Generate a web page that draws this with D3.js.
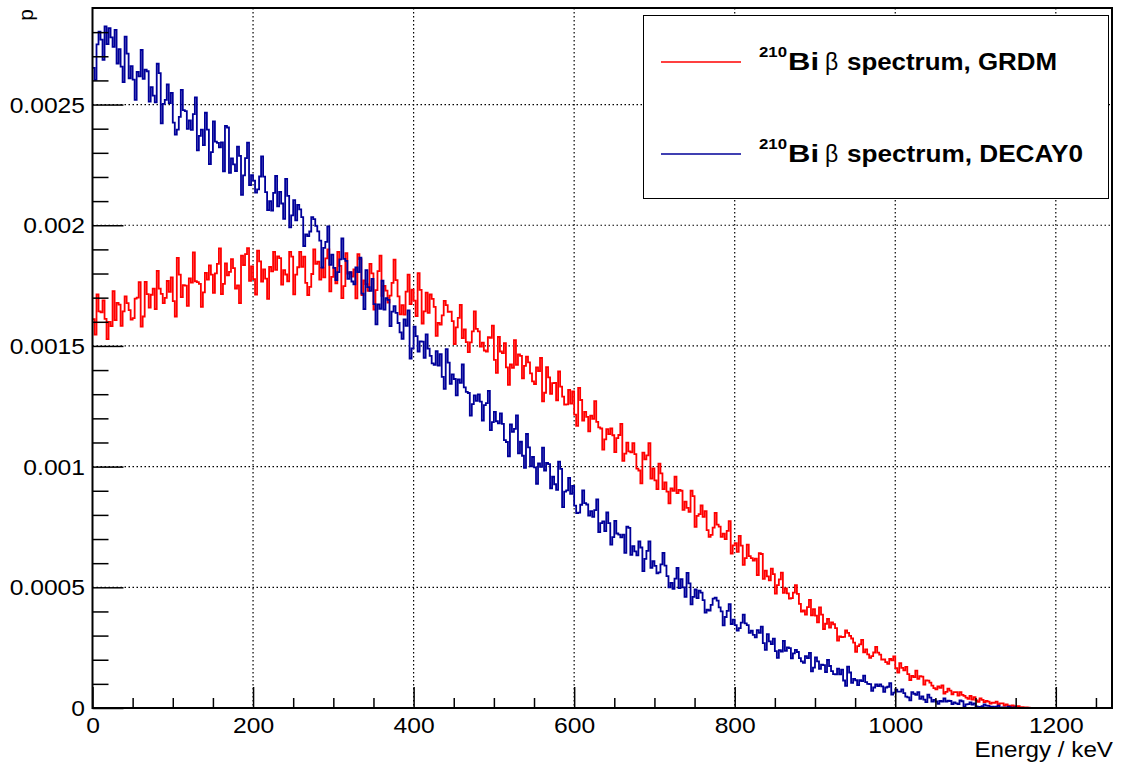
<!DOCTYPE html>
<html>
<head>
<meta charset="utf-8">
<script src="https://d3js.org/d3.v7.min.js"></script>
<style>
  body { margin: 0; background: #fff; }
  svg { display: block; font-family: "Liberation Sans", Arial, Helvetica, sans-serif; }
</style>
</head>
<body>
<script>
// histogram binning (keV)
var binWidth = 2.5;
var energyMax = 1270;

// p per 2.5 keV bin, written as p * 1e6
var grdmE6 = [
  1611, 1547, 1713, 1643, 1639, 1689, 1612, 1528, 1600, 1582,
  1727, 1607, 1678, 1671, 1583, 1643, 1705, 1677, 1648, 1609,
  1615, 1696, 1700, 1764, 1580, 1622, 1765, 1715, 1659, 1712,
  1737, 1653, 1811, 1737, 1716, 1677, 1699, 1769, 1724, 1784,
  1686, 1622, 1865, 1795, 1702, 1752, 1750, 1666, 1780, 1762,
  1888, 1768, 1764, 1757, 1662, 1722, 1803, 1775, 1834, 1795,
  1720, 1801, 1840, 1904, 1715, 1757, 1842, 1792, 1807, 1860,
  1822, 1738, 1751, 1677, 1874, 1835, 1880, 1905, 1770, 1830,
  1777, 1713, 1895, 1850, 1767, 1817, 1779, 1695, 1827, 1809,
  1890, 1815, 1871, 1864, 1754, 1814, 1796, 1768, 1890, 1870,
  1714, 1795, 1826, 1890, 1828, 1870, 1761, 1711, 1745, 1798,
  1900, 1840, 1849, 1775, 1823, 1784, 1863, 1900, 1726, 1786,
  1823, 1759, 1890, 1832, 1698, 1748, 1884, 1800, 1805, 1787,
  1817, 1697, 1880, 1860, 1711, 1771, 1756, 1728, 1840, 1801,
  1650, 1731, 1810, 1874, 1707, 1749, 1729, 1679, 1708, 1761,
  1857, 1773, 1705, 1631, 1669, 1630, 1725, 1795, 1673, 1733,
  1688, 1624, 1802, 1732, 1593, 1643, 1721, 1637, 1713, 1695,
  1662, 1542, 1595, 1588, 1627, 1687, 1669, 1641, 1642, 1603,
  1508, 1577, 1616, 1670, 1532, 1568, 1516, 1474, 1515, 1560,
  1643, 1571, 1560, 1497, 1514, 1481, 1476, 1536, 1533, 1584,
  1442, 1388, 1537, 1477, 1470, 1512, 1411, 1339, 1424, 1409,
  1524, 1422, 1465, 1459, 1366, 1417, 1456, 1432, 1386, 1353,
  1342, 1411, 1396, 1450, 1270, 1306, 1412, 1370, 1301, 1346,
  1347, 1275, 1394, 1331, 1290, 1257, 1258, 1318, 1261, 1312,
  1215, 1169, 1326, 1276, 1191, 1227, 1206, 1146, 1211, 1198,
  1271, 1185, 1163, 1158, 1070, 1113, 1155, 1135, 1158, 1130,
  1060, 1118, 1131, 1177, 1024, 1054, 1099, 1063, 1059, 1097,
  1052, 992, 984, 931, 1058, 1030, 1047, 1097, 950, 993,
  943, 907, 1012, 972, 907, 935, 896, 848, 910, 900,
  958, 890, 904, 900, 821, 855, 829, 813, 900, 878,
  750, 796, 803, 839, 792, 816, 737, 709, 717, 747,
  808, 760, 751, 709, 722, 700, 734, 774, 640, 674,
  683, 647, 713, 673, 593, 621, 677, 629, 621, 611,
  619, 551, 642, 638, 535, 569, 545, 529, 577, 555,
  474, 509, 533, 561, 477, 495, 475, 453, 455, 478,
  509, 473, 431, 399, 404, 387, 418, 448, 384, 410,
  383, 355, 417, 387, 327, 349, 369, 333, 355, 347,
  331, 279, 297, 294, 295, 321, 311, 299, 288, 271,
  233, 256, 264, 282, 231, 243, 222, 208, 215, 230,
  253, 229, 221, 200, 201, 190, 183, 203, 197, 214,
  165, 147, 186, 166, 156, 170, 140, 116, 133, 128,
  155, 121, 132, 130, 97, 114, 113, 105, 93, 82,
  77, 90, 83, 94, 60, 67, 80, 72, 57, 66,
  66, 51, 66, 54, 50, 43, 38, 50, 35, 45,
  31, 25, 40, 34, 24, 29, 26, 18, 22, 21,
  26, 15, 19, 19, 10, 15, 10, 8, 11, 8,
  1, 8, 3, 4, 1, 2, 1, 0,
  0, 0, 0, 0, 0, 0, 0, 0, 0, 0,
  0, 0, 0, 0, 0, 0, 0, 0, 0, 0,
  0, 0, 0, 0, 0, 0, 0, 0, 0, 0,
  0, 0, 0, 0, 0, 0, 0, 0, 0, 0
];

var decay0E6 = [
  2652, 2602, 2749, 2802, 2769, 2685, 2824, 2750, 2817, 2778,
  2739, 2809, 2670, 2730, 2657, 2593, 2781, 2711, 2609, 2659,
  2603, 2519, 2635, 2617, 2726, 2606, 2645, 2638, 2512, 2572,
  2537, 2509, 2669, 2630, 2422, 2503, 2519, 2583, 2506, 2548,
  2425, 2375, 2396, 2449, 2561, 2477, 2473, 2399, 2434, 2395,
  2460, 2530, 2310, 2370, 2396, 2332, 2466, 2396, 2253, 2303,
  2430, 2346, 2341, 2323, 2343, 2223, 2412, 2405, 2217, 2277,
  2252, 2224, 2326, 2287, 2126, 2207, 2278, 2342, 2166, 2208,
  2185, 2135, 2149, 2202, 2285, 2201, 2137, 2063, 2100, 2061,
  2134, 2204, 2078, 2138, 2090, 2026, 2192, 2122, 1991, 2041,
  2104, 2020, 2084, 2066, 2034, 1914, 1962, 1955, 1974, 2034,
  2025, 1997, 1975, 1936, 1825, 1906, 1931, 1995, 1836, 1878,
  1823, 1773, 1806, 1859, 1945, 1861, 1852, 1778, 1806, 1767,
  1755, 1825, 1806, 1866, 1717, 1653, 1814, 1744, 1728, 1778,
  1673, 1589, 1672, 1654, 1770, 1650, 1698, 1691, 1582, 1642,
  1665, 1637, 1595, 1556, 1529, 1610, 1583, 1647, 1448, 1490,
  1580, 1541, 1477, 1519, 1518, 1451, 1548, 1489, 1459, 1428,
  1422, 1478, 1418, 1466, 1372, 1322, 1487, 1431, 1343, 1382,
  1363, 1295, 1361, 1347, 1423, 1328, 1310, 1305, 1211, 1259,
  1295, 1272, 1299, 1269, 1191, 1255, 1263, 1314, 1151, 1184,
  1227, 1188, 1179, 1221, 1177, 1110, 1102, 1043, 1175, 1144,
  1156, 1212, 1055, 1103, 1045, 995, 1136, 1080, 1001, 1040,
  997, 929, 1013, 999, 1079, 984, 1015, 1010, 910, 958,
  927, 904, 1021, 991, 832, 896, 902, 953, 887, 920,
  838, 807, 809, 842, 902, 849, 843, 797, 816, 792,
  820, 864, 729, 766, 773, 733, 810, 766, 677, 708,
  775, 723, 718, 707, 718, 643, 751, 746, 634, 671,
  649, 632, 690, 665, 567, 618, 651, 690, 581, 608,
  589, 558, 562, 595, 643, 590, 546, 500, 518, 494,
  536, 580, 497, 534, 500, 460, 560, 516, 429, 460,
  491, 455, 486, 478, 447, 395, 407, 404, 427, 453,
  457, 445, 417, 400, 342, 377, 402, 430, 348, 366,
  343, 321, 331, 354, 387, 351, 343, 311, 320, 303,
  293, 323, 311, 337, 269, 241, 306, 276, 265, 287,
  236, 208, 240, 234, 278, 237, 251, 248, 206, 226,
  241, 232, 207, 193, 187, 215, 207, 228, 152, 167,
  210, 193, 162, 180, 178, 149, 199, 174, 153, 140,
  139, 163, 139, 159, 114, 92, 171, 147, 104, 121,
  115, 95, 115, 111, 134, 107, 100, 99, 71, 85,
  98, 91, 98, 90, 67, 85, 88, 103, 55, 64,
  76, 68, 68, 77, 62, 47, 44, 32, 66, 59,
  54, 66, 38, 48, 35, 24, 55, 43, 26, 34,
  27, 17, 29, 27, 40, 26, 30, 29, 16, 23,
  19, 16, 32, 28, 5, 15, 16, 23, 14, 19,
  7, 4, 5, 8, 15, 10, 9, 5, 6, 4,
  6, 10, 0, 3, 3, 0, 6, 2, 0, 2,
  0, 0, 0, 0, 0, 0, 0, 0, 0, 0,
  0, 0, 0, 0, 0, 0, 0, 0, 0, 0,
  0, 0, 0, 0, 0, 0, 0, 0, 0, 0,
  0, 0, 0, 0, 0, 0, 0, 0, 0, 0,
  0, 0, 0, 0, 0, 0, 0, 0
];

var xMajorTicks = [0, 200, 400, 600, 800, 1000, 1200];
var xTickLabels = ["0", "200", "400", "600", "800", "1000", "1200"];
var yMajorTicks = [0, 0.0005, 0.001, 0.0015, 0.002, 0.0025];
var yTickLabels = ["0", "0.0005", "0.001", "0.0015", "0.002", "0.0025"];
var legendNames = ["GRDM", "DECAY0"];
var seriesColors = ["#ff0000", "#000099"];

// frame of the pad
var margin = {top: 8, right: 10, bottom: 57, left: 92.5},
    width = 1122 - margin.left - margin.right,
    height = 765 - margin.top - margin.bottom;

var svgRoot = d3.select("body").append("svg")
    .attr("width", 1122)
    .attr("height", 765);

svgRoot.append("rect")
    .attr("width", 1122).attr("height", 765).attr("fill", "#fff");

var svg = svgRoot.append("g")
    .attr("transform", "translate(" + margin.left + "," + margin.top + ")");

var x = d3.scaleLinear().domain([0, energyMax]).range([0, width]);
var y = d3.scaleLinear().domain([0, 0.0029]).range([height, 0]);

svg.append("clipPath").attr("id", "frameClip")
  .append("rect").attr("width", width).attr("height", height);

// the reference text is a bit wider than Liberation Sans
function stretch(sel, f) {
  sel.each(function() {
    var w = this.getComputedTextLength();
    d3.select(this).attr("textLength", w * f).attr("lengthAdjust", "spacingAndGlyphs");
  });
}

// dotted grid at the major ticks
svg.append("g").selectAll("line")
    .data(xMajorTicks.filter(d => d > 0))
    .enter().append("line")
    .attr("x1", d => x(d)).attr("x2", d => x(d))
    .attr("y1", 0).attr("y2", height)
    .attr("stroke", "#000").attr("stroke-width", 1.2)
    .attr("stroke-dasharray", "1.5,2.5");

svg.append("g").selectAll("line")
    .data(yMajorTicks.filter(d => d > 0))
    .enter().append("line")
    .attr("x1", 0).attr("x2", width)
    .attr("y1", d => y(d)).attr("y2", d => y(d))
    .attr("stroke", "#000").attr("stroke-width", 1.2)
    .attr("stroke-dasharray", "1.5,2.5");

// histograms as step lines
var stepLine = d3.line()
    .x(d => x(d[0]))
    .y(d => y(d[1]))
    .curve(d3.curveStepAfter);

function toSteps(valsE6) {
  var pts = valsE6.map((v, i) => [i * binWidth, v * 1e-6]);
  pts.push([valsE6.length * binWidth, valsE6[valsE6.length - 1] * 1e-6]);
  return pts;
}

[grdmE6, decay0E6].forEach(function(vals, i) {
  svg.append("path")
      .datum(toSteps(vals))
      .attr("clip-path", "url(#frameClip)")
      .attr("fill", "none")
      .attr("stroke", seriesColors[i])
      .attr("stroke-width", 1.8)
      .attr("d", stepLine);
});

// x axis: ticks pointing inwards
var xAxis = svg.append("g")
    .attr("transform", "translate(0," + height + ")")
    .call(d3.axisBottom(x)
      .tickValues(xMajorTicks)
      .tickFormat((d, i) => xTickLabels[i])
      .tickSizeInner(-21).tickSizeOuter(0).tickPadding(9));

svg.append("g")
    .attr("transform", "translate(0," + height + ")")
    .call(d3.axisBottom(x)
      .tickValues(d3.range(50, energyMax, 50).filter(d => d % 200 !== 0))
      .tickFormat("")
      .tickSizeInner(-10).tickSizeOuter(0));

// y axis
var yAxis = svg.append("g")
    .call(d3.axisLeft(y)
      .tickValues(yMajorTicks)
      .tickFormat((d, i) => yTickLabels[i])
      .tickSizeInner(-31).tickSizeOuter(0).tickPadding(7.5));

svg.append("g")
    .call(d3.axisLeft(y)
      .tickValues(d3.range(1, 29).filter(d => d % 5 !== 0).map(d => d * 0.0001))
      .tickFormat("")
      .tickSizeInner(-16).tickSizeOuter(0));

svg.selectAll(".domain").remove();
svg.selectAll(".tick line").attr("stroke", "#000").attr("stroke-width", 1.5);
svg.selectAll(".tick text")
    .attr("fill", "#000")
    .style("font-size", "22px")
    .style("font-family", "'Liberation Sans', Arial, sans-serif");
yAxis.selectAll(".tick text").attr("dy", "0.34em");
stretch(svg.selectAll(".tick text"), 1.12);

// frame
svg.append("rect")
    .attr("width", width).attr("height", height)
    .attr("fill", "none").attr("stroke", "#000").attr("stroke-width", 2);

// axis titles
svg.append("text")
    .attr("transform", "translate(-60,1) rotate(-90)")
    .style("text-anchor", "end")
    .style("font-size", "21px")
    .text("p");

var xTitle = svg.append("text")
    .attr("x", width + 1)
    .attr("y", height + 49)
    .style("text-anchor", "end")
    .style("font-size", "22px")
    .text("Energy / keV");
stretch(xTitle, 1.1);

// legend box (pad coordinates)
var legend = svgRoot.append("g");
legend.append("rect")
    .attr("x", 643.5).attr("y", 15.5)
    .attr("width", 465).attr("height", 183)
    .attr("fill", "#fff").attr("stroke", "#000").attr("stroke-width", 1);

var restWidths = [210, 236];
legendNames.forEach(function(name, i) {
  var by = 70 + 92 * i;
  legend.append("line")
      .attr("x1", 661).attr("x2", 741)
      .attr("y1", by - 8).attr("y2", by - 8)
      .attr("stroke", seriesColors[i]).attr("stroke-width", 1.5);
  legend.append("text")
      .attr("x", 759).attr("y", by - 13)
      .attr("textLength", 28).attr("lengthAdjust", "spacingAndGlyphs")
      .style("font-size", "15px").style("font-weight", "bold")
      .text("210");
  legend.append("text")
      .attr("x", 788).attr("y", by)
      .attr("textLength", 31).attr("lengthAdjust", "spacingAndGlyphs")
      .style("font-size", "23px").style("font-weight", "bold")
      .text("Bi");
  legend.append("text")
      .attr("x", 825).attr("y", by)
      .style("font-size", "23px")
      .text("β");
  legend.append("text")
      .attr("x", 847).attr("y", by)
      .attr("textLength", restWidths[i]).attr("lengthAdjust", "spacingAndGlyphs")
      .style("font-size", "23px").style("font-weight", "bold")
      .text("spectrum, " + name);
});
</script>
</body>
</html>
